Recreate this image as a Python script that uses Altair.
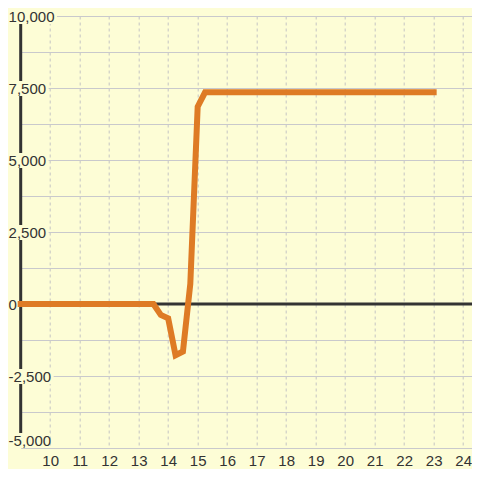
import altair as alt
import pandas as pd

# ---- data ----
hours = [9, 13.5, 13.75, 14.0, 14.25, 14.5, 14.75, 15.0, 15.25, 23]
values = [0, 0, -380, -500, -1780, -1650, 700, 6850, 7350, 7350]

x_ticks = [10, 11, 12, 13, 14, 15, 16, 17, 18, 19, 20, 21, 22, 23, 24]
y_grid = [-5000, -3750, -2500, -1250, 0, 1250, 2500, 3750, 5000, 6250, 7500, 8750, 10000]
y_labels = [10000, 7500, 5000, 2500, 0, -2500, -5000]

BG = "#fdfdd6"
INK = "#333333"
ORANGE = "#de7b25"
GRID = "#c9c9cc"
FONT = "Liberation Sans"

LEFT = 12.7   # padding left of the plot area
TOP = 8
W, H = 464 - LEFT, 432

xscale = alt.Scale(domain=[9, 24.3], nice=False, zero=False)
yscale = alt.Scale(domain=[-5000, 10000], nice=False, zero=False)

xaxis = alt.Axis(values=x_ticks, title=None, grid=True, gridDash=[3, 3],
                 gridColor="#c4c4c4", gridWidth=1, domain=False, ticks=False,
                 labelFontSize=15, labelColor=INK, labelFont=FONT,
                 labelPadding=5, labelFlush=False)
yaxis = alt.Axis(values=y_grid, title=None, grid=True, gridColor=GRID,
                 gridWidth=1, domain=False, ticks=False, labels=False)


def X(f):
    return alt.X(f, scale=xscale, axis=xaxis)


def Y(f):
    return alt.Y(f, scale=yscale, axis=yaxis)


df = pd.DataFrame({"h": hours, "v": values})

base = alt.Chart(df).mark_point(opacity=0).encode(x=X("h:Q"), y=Y("v:Q"))

axis_line = alt.Chart(pd.DataFrame({"h": [9], "v": [10000], "v2": [-5000]})).mark_rule(
    color=INK, strokeWidth=3
).encode(x=X("h:Q"), y=Y("v:Q"), y2="v2:Q")

zero_line = alt.Chart(pd.DataFrame({"v": [0]})).mark_rule(
    color=INK, strokeWidth=3
).encode(y=Y("v:Q"), x=alt.value(0), x2=alt.value(W + 30))


def fmt(v):
    return f"{v:,}"


def text_width(s):
    w = 0
    for ch in s:
        if ch.isdigit():
            w += 8.34
        elif ch == ",":
            w += 4.17
        elif ch == "-":
            w += 5.0
    return w


label_layers = []
for v in y_labels:
    s = fmt(v)
    if v < 0:
        left_page = 2.2
    elif v >= 10000:
        left_page = 4.6
    elif v == 0:
        left_page = 8.0
    else:
        left_page = 6.0
    left_page = max(left_page, 8.6)
    left = left_page - 8 - LEFT
    right = left + text_width(s) + 2.5
    shift = 1
    if v == 0:
        right = 17.5 - 8 - LEFT
    if v == -5000:
        right = 50 - 8 - LEFT
        shift = -7
    d = pd.DataFrame({"v": [v], "t": [s]})
    rect = alt.Chart(d).mark_rect(
        color=BG, x=-LEFT, x2=right, yOffset=shift - 8, y2Offset=shift + 7
    ).encode(y=Y("v:Q"), y2="v:Q")
    txt = alt.Chart(d).mark_text(
        align="left", baseline="middle", x=left, dy=shift,
        fontSize=15, font=FONT, color=INK
    ).encode(y=Y("v:Q"), text="t:N")
    label_layers += [rect, txt]

line = alt.Chart(df).mark_line(
    color=ORANGE, strokeWidth=6, strokeCap="square", strokeJoin="miter"
).encode(x=X("h:Q"), y=Y("v:Q"))

chart = alt.layer(base, axis_line, zero_line, *label_layers, line).properties(
    width=W, height=H,
    autosize=alt.AutoSizeParams(type="none"),
    padding={"left": LEFT, "top": TOP, "right": 0, "bottom": 21},
    background=BG,
).configure_view(stroke=None, fill=BG)

chart.save("out.html", embed_options={"renderer": "svg", "actions": False})
